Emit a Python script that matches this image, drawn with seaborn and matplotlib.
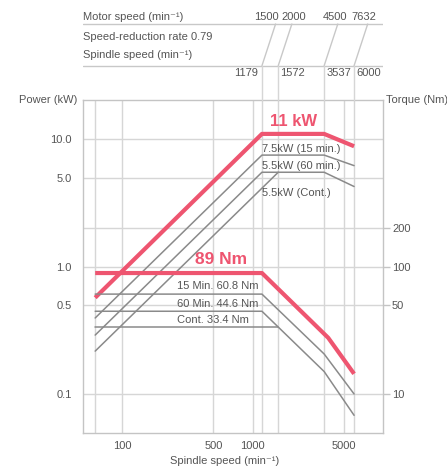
"""
Spindle power / torque diagram (log-log) with motor-to-spindle speed header
"""

import matplotlib.pyplot as plt
from matplotlib import transforms
import pandas as pd
import seaborn as sns

# Speeds (min-1)
motor_speed = [1500, 2000, 4500, 7632]
spindle_speed = [1179, 1572, 3537, 6000]
speed_start = 62

# Power curves (kW)
power_max_x = [62, 1179, 3537, 6000]
power_max_y = [0.57, 11.0, 11.0, 8.8]
power_15_x = [62, 1179, 3537, 6000]
power_15_y = [0.395, 7.5, 7.5, 6.2]
power_60_x = [62, 1179, 3537, 6000]
power_60_y = [0.29, 5.5, 5.5, 4.25]
power_cont_x = [62, 1572]
power_cont_y = [0.217, 5.5]

# Torque curves (Nm)
torque_max_x = [62, 1179, 3800, 6000]
torque_max_y = [89, 89, 27.6, 14.4]
torque_15_x = [62, 1179, 3537, 6000]
torque_15_y = [60.8, 60.8, 20.6, 10.0]
torque_60_x = [62, 1179, 3537, 6000]
torque_60_y = [44.6, 44.6, 15.0, 6.8]
torque_cont_x = [62, 1572]
torque_cont_y = [33.4, 33.4]

# Axis ticks / grid
x_ticks = [100, 500, 1000, 5000]
x_grid = [speed_start, 100, 500, 1000] + spindle_speed[:3] + [5000, spindle_speed[3]]
power_ticks = [0.1, 0.5, 1.0, 5.0, 10.0]
power_grid = [0.1, 0.5, 1.0, 2.0, 5.0, 10.0]
torque_ticks = [10, 50, 100, 200]

red = '#ee5570'
grey_line = '#8a8a8a'
grid_col = '#d6d6d6'
text_col = '#555555'

sns.set_theme(style='white')
plt.rcParams['font.family'] = ['Liberation Sans', 'DejaVu Sans']
plt.rcParams['font.size'] = 8
plt.rcParams['text.color'] = text_col

W, H = 447, 469
fig = plt.figure(figsize=(W / 100, H / 100), dpi=100)

# Main axes in pixel layout
left, right, top, bottom = 83, 383, 100, 433
ax = fig.add_axes([left / W, 1 - bottom / H, (right - left) / W, (bottom - top) / H])
ax.set_xscale('log')
ax.set_yscale('log')
ax.set_xlim(50, 10000)
ax.set_ylim(0.0494, 20.3)

for xv in x_grid:
    ax.axvline(xv, color=grid_col, lw=1, zorder=0)
for yv in power_grid:
    ax.axhline(yv, color=grid_col, lw=1, zorder=0)

# Power lines
for xs, ys in [(power_15_x, power_15_y), (power_60_x, power_60_y),
               (power_cont_x, power_cont_y)]:
    sns.lineplot(x=xs, y=ys, ax=ax, color=grey_line, lw=1.1, zorder=3)
sns.lineplot(x=power_max_x, y=power_max_y, ax=ax, color=red, lw=3, zorder=5,
             solid_capstyle='butt')

ax.set_xticks(x_ticks)
ax.set_xticklabels([str(t) for t in x_ticks])
ax.set_yticks(power_ticks)
ax.set_yticklabels(['0.1', '0.5', '1.0', '5.0', '10.0'])
ax.minorticks_off()
ax.tick_params(axis='both', length=0, colors=text_col, labelsize=8)
ax.tick_params(axis='y', pad=8)
ax.tick_params(axis='x', pad=6)
for s in ax.spines.values():
    s.set_color('#c4c4c4')
    s.set_linewidth(1)

# Torque axis
tax = ax.twinx()
tax.set_yscale('log')
tax.set_ylim(4.94, 2030)
for xs, ys in [(torque_15_x, torque_15_y), (torque_60_x, torque_60_y),
               (torque_cont_x, torque_cont_y)]:
    sns.lineplot(x=xs, y=ys, ax=tax, color=grey_line, lw=1.1, zorder=3)
sns.lineplot(x=torque_max_x, y=torque_max_y, ax=tax, color=red, lw=3, zorder=5,
             solid_capstyle='butt')
tax.set_yticks(torque_ticks)
tax.set_yticklabels([str(t) for t in torque_ticks])
tax.minorticks_off()
tax.tick_params(axis='y', length=5, width=1, color='#c4c4c4', colors=text_col,
                pad=1.5, labelsize=8)
tax.tick_params(axis='y', color='#c4c4c4')
for s in tax.spines.values():
    s.set_visible(False)
tax.set_xlim(50, 10000)

# Curve labels
ax.text(2050, 13.7, '11 kW', color=red, fontsize=12, fontweight='bold',
        ha='center', va='center')
tax.text(571, 113.5, '89 Nm', color=red, fontsize=12.5, fontweight='bold',
         ha='center', va='center')
ax.text(1185, 8.4, '7.5kW (15 min.)', ha='left', va='center', fontsize=8)
ax.text(1185, 6.18, '5.5kW (60 min.)', ha='left', va='center', fontsize=8)
ax.text(1185, 3.77, '5.5kW (Cont.)', ha='left', va='center', fontsize=8)
tax.text(262, 70, '15 Min. 60.8 Nm', ha='left', va='center', fontsize=8)
tax.text(262, 51, '60 Min. 44.6 Nm', ha='left', va='center', fontsize=8)
tax.text(262, 38.4, 'Cont. 33.4 Nm', ha='left', va='center', fontsize=8)

fig.text(77 / W, 1 - 100 / H, 'Power (kW)', ha='right', va='center', fontsize=8)
fig.text(386 / W, 1 - 100 / H, 'Torque (Nm)', ha='left', va='center', fontsize=8)
fig.text(225 / W, 1 - 461 / H, 'Spindle speed (min⁻¹)', ha='center',
         va='center', fontsize=8)

# Header: motor speed -> spindle speed (y in pixels from the figure top)
hax = fig.add_axes([left / W, 1 - top / H, (right - left) / W, top / H])
hax.set_xscale('log')
hax.set_xlim(50, 10000)
hax.set_ylim(top, 0)
hax.axis('off')
line_top, line_bot = 24, 65.7
hax.plot([50, 10000], [line_top, line_top], color='#c8c8c8', lw=1)
hax.plot([50, 10000], [line_bot, line_bot], color='#c8c8c8', lw=1)
for m, s in zip(motor_speed, spindle_speed):
    hax.plot([m, s], [line_top, line_bot], color='#c8c8c8', lw=1)
    hax.plot([s, s], [line_bot, top], color=grid_col, lw=1, clip_on=False)

blend = transforms.blended_transform_factory(hax.transAxes, hax.transData)
hax.text(0, 16.7, 'Motor speed (min⁻¹)', transform=blend, ha='left', va='center')
hax.text(0, 37, 'Speed-reduction rate 0.79', transform=blend, ha='left', va='center')
hax.text(0, 55, 'Spindle speed (min⁻¹)', transform=blend, ha='left', va='center')

# motor speed labels: pixel offsets from the slanted line tops
motor_dx = [-9, 2, -3, -4]
for m, dx in zip(motor_speed, motor_dx):
    off = transforms.offset_copy(hax.transData, fig=fig, x=dx, y=0, units='dots')
    hax.text(m, 16.7, str(m), transform=off, ha='center', va='center')
spin_ha = ['right', 'left', 'left', 'left']
spin_dx = [-4, 2, 2, 2]
for s, ha, dx in zip(spindle_speed, spin_ha, spin_dx):
    off = transforms.offset_copy(hax.transData, fig=fig, x=dx, y=0, units='dots')
    hax.text(s, 73.3, str(s), transform=off, ha=ha, va='center')

fig.savefig('out.png', dpi=100)
